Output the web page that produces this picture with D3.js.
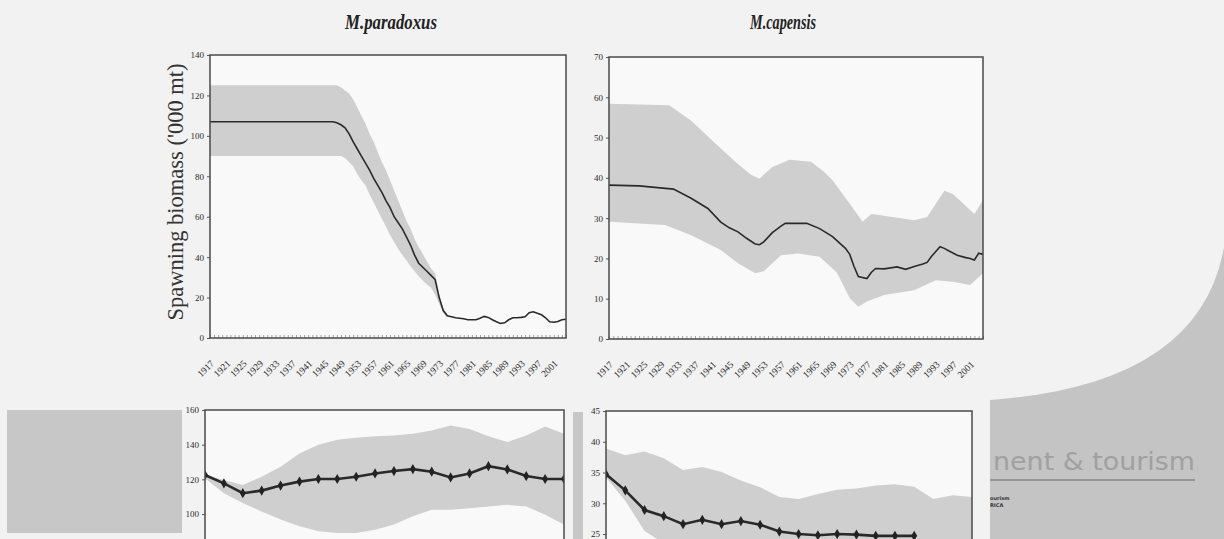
<!DOCTYPE html>
<html>
<head>
<meta charset="utf-8">
<script src="https://cdn.jsdelivr.net/npm/d3@7/dist/d3.min.js"></script>
<style>
  html, body { margin: 0; padding: 0; background: #f2f2f2; }
  svg { display: block; }
  .tick text { font-family: "Liberation Serif", serif; fill: #2a2a2a; }
</style>
</head>
<body>
<div id="chart"></div>
<script>
// ---- data ----
var titles = ["M.paradoxus", "M.capensis"];
var yLabel = "Spawning biomass ('000 mt)";
var yearTicks = d3.range(1917, 2002, 4);

// M. paradoxus: [year, biomass]
var paraLine = [[1917,107],[1947,107],[1948,106.5],[1949,105.5],[1950,104],[1951,101],[1952,97],
  [1953,93.5],[1954,90],[1955,86.5],[1956,83],[1957,79],[1958,75.5],[1959,72],[1960,68],[1961,64.5],
  [1962,60],[1963,57],[1964,54],[1965,50],[1966,46],[1967,41],[1968,37],[1969,35],[1970,33],[1971,31],
  [1972,29],[1973,20],[1974,13.5],[1975,11],[1976,10.5],[1977,10],[1978,9.8],[1979,9.5],[1980,9],
  [1981,9],[1982,9],[1983,9.8],[1984,10.7],[1985,10.2],[1986,9],[1987,8],[1988,7.2],[1989,7.5],
  [1990,9],[1991,10],[1992,10],[1993,10.2],[1994,10.5],[1995,12.5],[1996,13],[1997,12.2],[1998,11.5],
  [1999,10],[2000,8],[2001,7.8],[2002,8.2],[2003,9],[2004,9.3]];
var paraUpper = [[1917,125],[1948,125],[1949,124],[1950,122.5],[1951,121],[1952,118],[1953,114],
  [1954,110],[1955,106],[1956,101],[1957,97],[1958,92],[1959,87],[1960,83],[1961,78],[1962,73],[1963,68],
  [1964,63],[1965,58],[1966,54],[1967,49],[1968,45],[1969,41.5],[1970,38],[1971,34.5],[1972,32],
  [1973,22],[1974,15],[1975,12]];
var paraLower = [[1917,90],[1949,90],[1950,89],[1951,87],[1952,85],[1953,81],[1954,78],[1955,75.5],
  [1956,71],[1957,67],[1958,63],[1959,59],[1960,55],[1961,51],[1962,47.5],[1963,44],[1964,41],
  [1965,38.5],[1966,35.5],[1967,33],[1968,30.5],[1969,28.5],[1970,26.5],[1971,25],[1972,21.5],
  [1973,17],[1974,12.5],[1975,10]];

// M. capensis: [year, biomass]
var capLine = [[1917,38.2],[1924,38],[1932,37.2],[1936,35],[1940,32.4],[1943,29],[1945,27.6],[1947,26.6],
  [1949,25],[1951,23.6],[1952,23.4],[1953,24.1],[1955,26.4],[1957,28],[1958,28.7],[1963,28.7],
  [1966,27.4],[1969,25.4],[1972,22.5],[1973,21],[1974,18],[1975,15.5],[1977,15],[1978,16.5],
  [1979,17.5],[1981,17.4],[1984,17.9],[1986,17.3],[1988,18],[1990,18.6],[1991,19],[1992,20.5],
  [1994,22.9],[1995,22.5],[1996,21.9],[1998,20.8],[2000,20.2],[2001,20],[2002,19.6],[2003,21.3],[2004,21]];
var capUpper = [[1917,58.4],[1931,58],[1936,54.3],[1941,49.3],[1946,44.4],[1950,40.8],[1952,39.8],
  [1955,42.7],[1959,44.5],[1964,44],[1967,41.5],[1969,39.4],[1973,33.6],[1976,29.1],[1978,31],
  [1983,30.3],[1988,29.5],[1991,30.3],[1993,33.5],[1995,36.8],[1997,36],[2001,32],[2002,31],[2004,34.5]];
var capLower = [[1917,29.1],[1930,28.3],[1936,25.8],[1943,22.1],[1947,18.8],[1951,16.3],[1953,16.8],
  [1957,20.8],[1961,21.2],[1966,20.4],[1970,16.5],[1973,10.1],[1975,8],[1977,9.3],[1981,10.9],
  [1988,12.1],[1993,14.6],[1997,14.2],[2001,13.4],[2004,16.3]];

// lower panels (annual points, partly cut off by the slide edge)
var lowLeftLine  = [122.5,117.7,112,113.5,116.4,118.7,120.2,120.2,121.5,123.4,124.8,125.9,124.4,121.1,123.4,127.6,125.7,121.9,120.2,120.2];
var lowLeftUpper = [122.5,119.6,116.8,121.5,127.2,134.9,140,142.9,144,144.8,145.3,146.3,148.2,151,149.1,144.8,141.5,145.3,150.5,146.3];
var lowLeftLower = [120.6,112,106.3,101.5,96.8,92.9,90.1,89.1,89.1,91,93.9,98.7,102.5,102.5,103.4,104.4,105.3,104.4,99.6,93.9];
var lowRightLine  = [34.7,32.1,28.9,27.9,26.6,27.3,26.6,27.1,26.5,25.4,25,24.8,25,24.9,24.7,24.7,24.7];
var lowRightUpper = [38.9,37.8,38.4,37.3,35.4,35.9,35.1,33.7,32.6,31,30.7,31.5,32.2,32.4,32.9,33.1,32.7,30.7,31.3,31];
var lowRightLower = [34.2,30.4,25.5,23.5,22.5,22,21.5,21.5,21,21,21,21,21,21,21,21,21,21,21,21];

var width = 1224, height = 539;
var svg = d3.select("#chart").append("svg")
    .attr("width", width)
    .attr("height", height);

// slide background pieces
svg.append("rect").attr("width", width).attr("height", height).attr("fill", "#f2f2f2");
svg.append("rect").attr("x", 7).attr("y", 410).attr("width", 175).attr("height", 123).attr("fill", "#c7c7c7");
svg.append("rect").attr("x", 573).attr("y", 412).attr("width", 10).attr("height", 127).attr("fill", "#c7c7c7");
svg.append("path")
    .attr("d", "M1224,247 Q1200,385 990,400 L990,539 L1224,539 Z")
    .attr("fill", "#c4c4c4");
svg.append("text")
    .attr("x", 993).attr("y", 470)
    .attr("textLength", 202)
    .attr("lengthAdjust", "spacingAndGlyphs")
    .style("font-family", "'DejaVu Sans', sans-serif")
    .style("font-size", "24px")
    .attr("fill", "#a0a0a0")
    .text("nent & tourism");
svg.append("line")
    .attr("x1", 990).attr("x2", 1195).attr("y1", 480).attr("y2", 480)
    .attr("stroke", "#666").attr("stroke-width", 1.2);
svg.append("text").attr("x", 990).attr("y", 500)
    .style("font-family", "'DejaVu Sans', sans-serif").style("font-size", "5px").style("font-weight", "bold")
    .attr("fill", "#333").text("ourism");
svg.append("text").attr("x", 990).attr("y", 507)
    .style("font-family", "'DejaVu Sans', sans-serif").style("font-size", "5px").style("font-weight", "bold")
    .attr("fill", "#333").text("RICA");

var clipCount = 0;

function drawPanel(p) {
    var x = d3.scaleLinear().domain(p.xDomain).range([p.left, p.right]);
    var y = d3.scaleLinear().domain(p.yDomain).range([p.bottom, p.top]);

    var id = "clip" + (clipCount++);
    svg.append("clipPath").attr("id", id)
      .append("rect")
        .attr("x", p.left).attr("y", p.top)
        .attr("width", p.right - p.left).attr("height", p.bottom - p.top);

    var g = svg.append("g");
    g.append("rect")
        .attr("x", p.left).attr("y", p.top)
        .attr("width", p.right - p.left).attr("height", p.bottom - p.top)
        .attr("fill", "#f9f9f9");

    var inner = g.append("g").attr("clip-path", "url(#" + id + ")");

    var line = d3.line().x(d => x(d[0])).y(d => y(d[1]));

    // confidence band = upper edge followed by lower edge reversed
    var band = p.upper.concat(p.lower.slice().reverse());
    inner.append("path")
        .attr("d", line(band) + "Z")
        .attr("fill", "#cfcfcf");

    inner.append("path")
        .attr("d", line(p.line))
        .attr("fill", "none")
        .attr("stroke", "#2a2a2a")
        .attr("stroke-width", p.lineWidth);

    if (p.markers) {
        inner.selectAll("path.mk")
            .data(p.line)
          .enter().append("path")
            .attr("class", "mk")
            .attr("d", d3.symbol().type(d3.symbolDiamond).size(30))
            .attr("transform", d => "translate(" + x(d[0]) + "," + y(d[1]) + ")")
            .attr("fill", "#222");
    }

    // y axis
    var ya = g.append("g")
        .attr("transform", "translate(" + p.left + ",0)")
        .call(d3.axisLeft(y).tickValues(p.yTicks).tickSize(3).tickPadding(3));
    ya.select(".domain").remove();
    ya.selectAll("line").attr("stroke", "#555");
    ya.selectAll("text").style("font-size", "9px");

    // minor yearly ticks and slanted year labels
    if (p.years) {
        var xa = g.append("g")
            .attr("transform", "translate(0," + p.bottom + ")")
            .call(d3.axisBottom(x).tickValues(d3.range(p.xDomain[0], p.xDomain[1] + 1)).tickSize(-3).tickFormat(""));
        xa.select(".domain").remove();
        xa.selectAll("line").attr("stroke", "#666").attr("stroke-width", 0.6);

        var xl = g.append("g")
            .attr("transform", "translate(0," + (p.bottom + 22) + ")")
            .call(d3.axisBottom(x).tickValues(yearTicks).tickSize(0).tickFormat(d3.format("d")));
        xl.select(".domain").remove();
        xl.selectAll("text")
            .style("font-size", "9.5px")
            .attr("text-anchor", "end")
            .attr("dy", "0.3em")
            .attr("transform", "rotate(-45)");
    }

    // frame
    g.append("rect")
        .attr("x", p.left).attr("y", p.top)
        .attr("width", p.right - p.left).attr("height", p.bottom - p.top)
        .attr("fill", "none")
        .attr("stroke", "#4a4a4a")
        .attr("stroke-width", 1.5);

    if (p.title) {
        svg.append("text")
            .attr("x", (p.left + p.right) / 2 + p.titleShift)
            .attr("y", 29)
            .attr("text-anchor", "middle")
            .attr("textLength", p.titleWidth)
            .attr("lengthAdjust", "spacingAndGlyphs")
            .style("font-family", "'Liberation Serif', serif")
            .style("font-style", "italic")
            .style("font-weight", "bold")
            .style("font-size", "20px")
            .attr("fill", "#222")
            .text(p.title);
    }
}

function indexed(values) {
    return values.map((v, i) => [i, v]);
}

drawPanel({
    left: 210, right: 566, top: 55, bottom: 338,
    xDomain: [1917, 2004], yDomain: [0, 140], yTicks: d3.range(0, 141, 20),
    line: paraLine, upper: paraUpper, lower: paraLower,
    lineWidth: 1.6, years: true,
    title: titles[0], titleShift: 3, titleWidth: 92
});

drawPanel({
    left: 609, right: 983, top: 57, bottom: 339,
    xDomain: [1917, 2004], yDomain: [0, 70], yTicks: d3.range(0, 71, 10),
    line: capLine, upper: capUpper, lower: capLower,
    lineWidth: 1.6, years: true,
    title: titles[1], titleShift: -13, titleWidth: 66
});

drawPanel({
    left: 205, right: 564, top: 410, bottom: 548.7,
    xDomain: [0, 19], yDomain: [80, 160], yTicks: [100, 120, 140, 160],
    line: indexed(lowLeftLine), upper: indexed(lowLeftUpper), lower: indexed(lowLeftLower),
    lineWidth: 2.6, markers: true
});

drawPanel({
    left: 606, right: 972, top: 411, bottom: 564.75,
    xDomain: [0, 19], yDomain: [20, 45], yTicks: [25, 30, 35, 40, 45],
    line: indexed(lowRightLine), upper: indexed(lowRightUpper), lower: indexed(lowRightLower),
    lineWidth: 2.6, markers: true
});

// shared y-axis title
svg.append("text")
    .attr("transform", "translate(183,192) rotate(-90)")
    .attr("text-anchor", "middle")
    .style("font-family", "'Liberation Serif', serif")
    .style("font-size", "22.5px")
    .attr("fill", "#333")
    .text(yLabel);
</script>
</body>
</html>
